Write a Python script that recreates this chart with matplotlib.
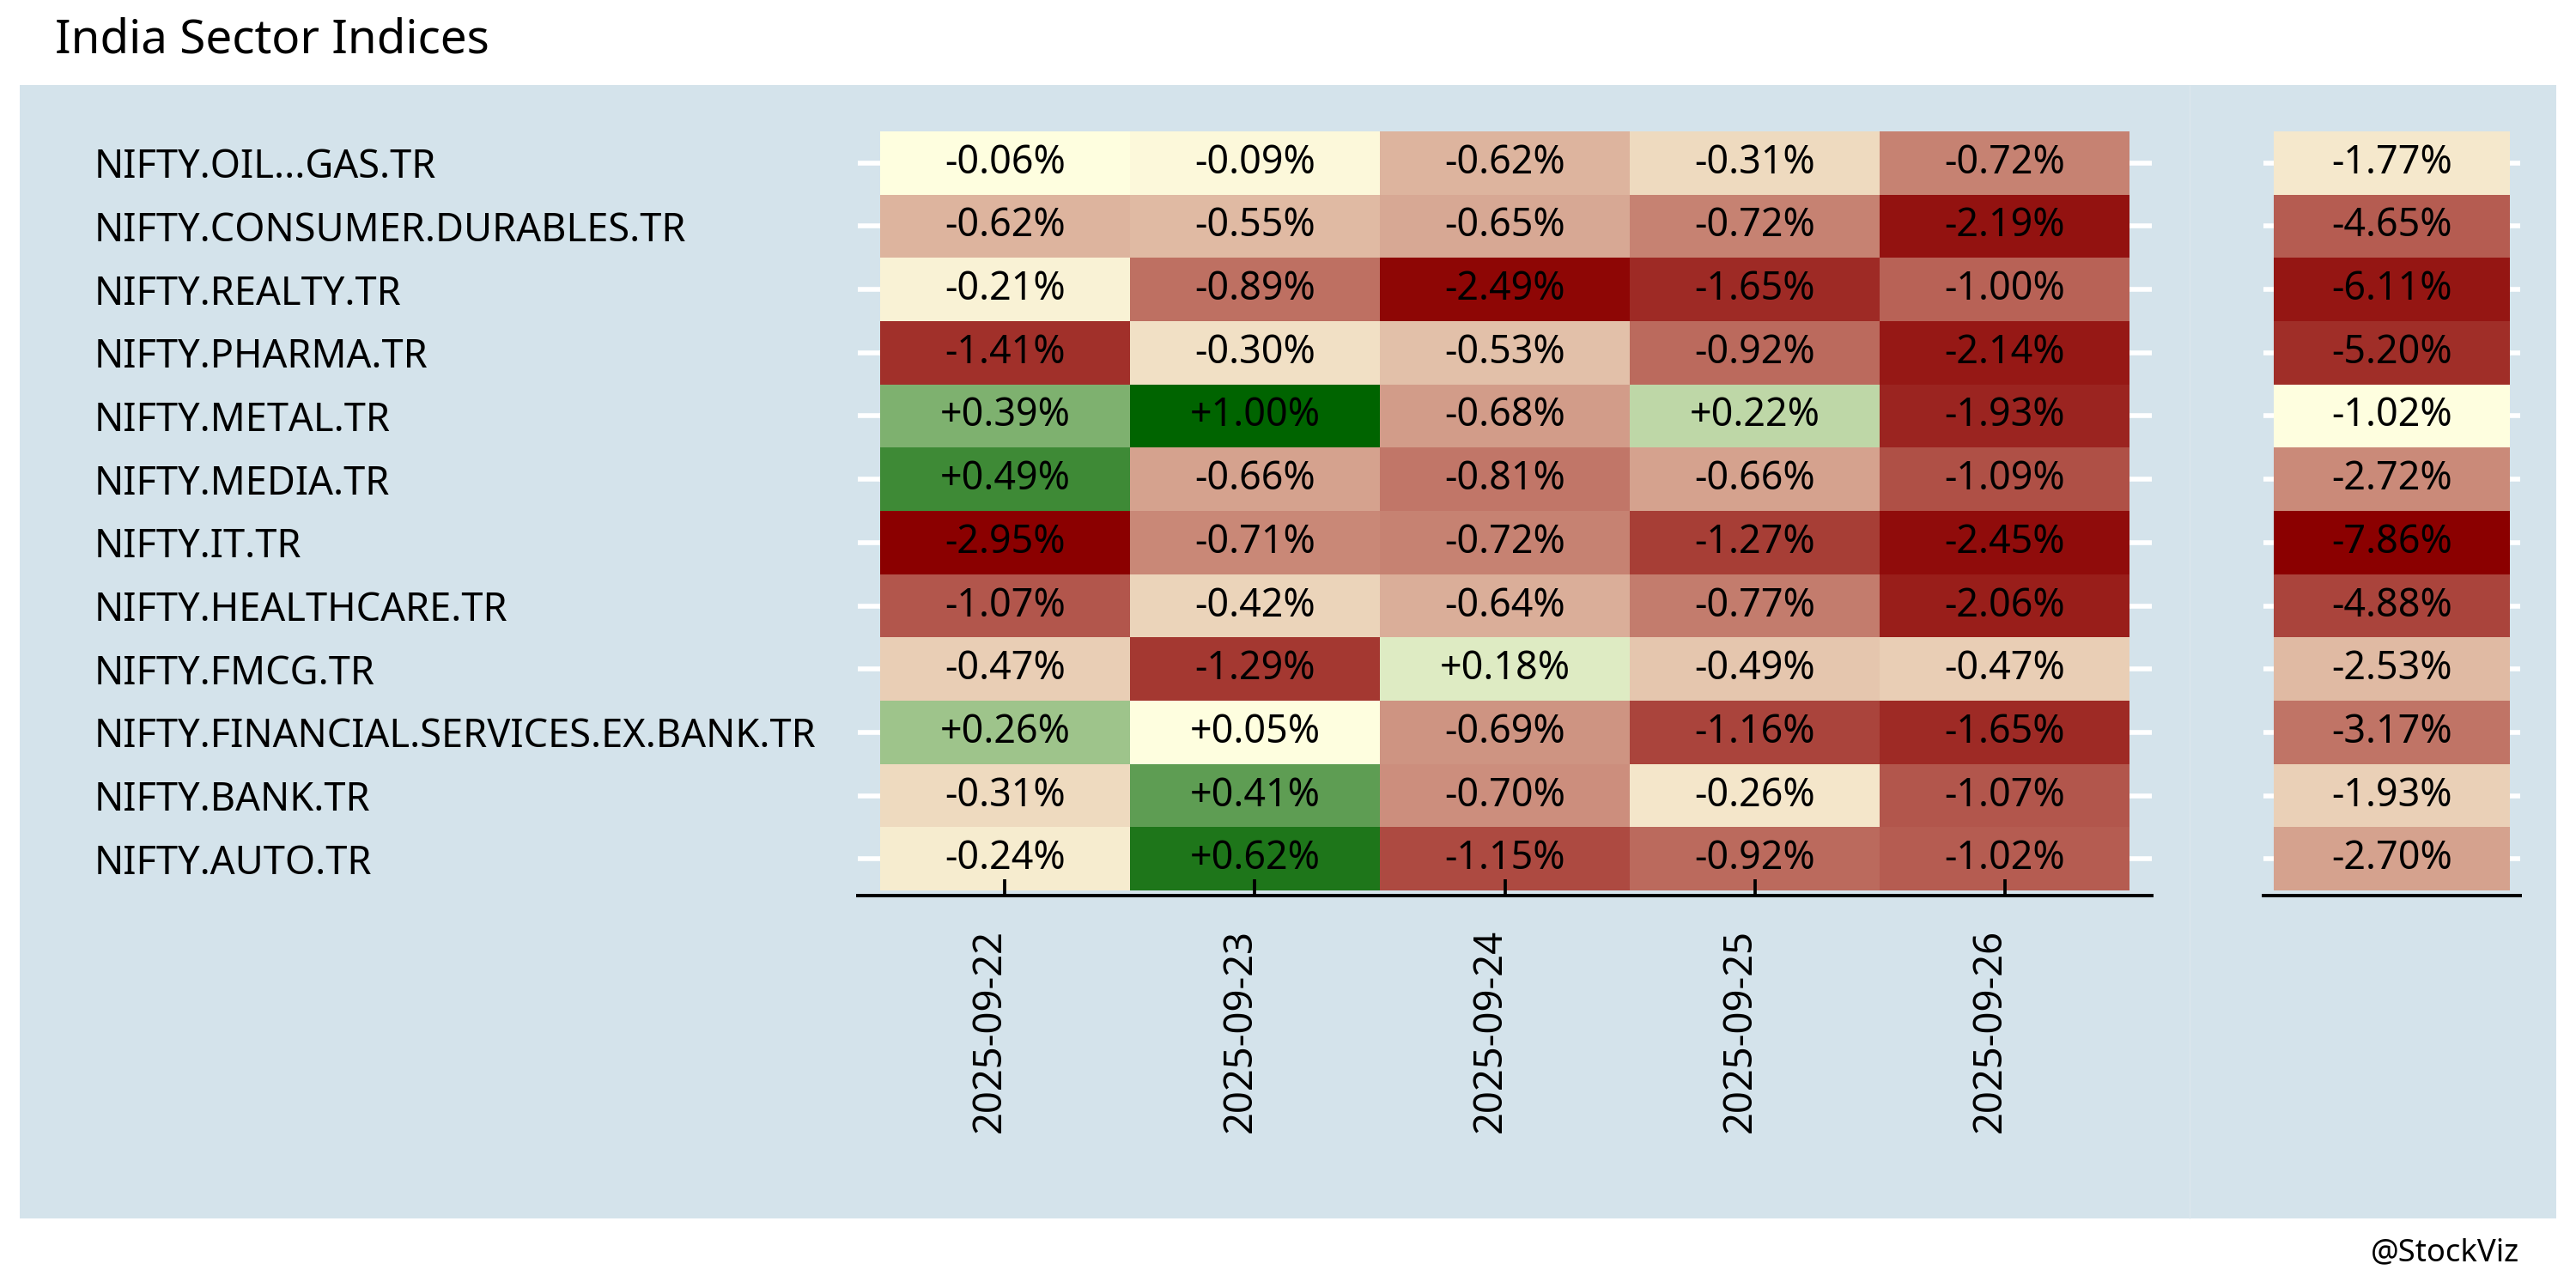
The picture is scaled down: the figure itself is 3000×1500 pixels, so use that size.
import matplotlib
matplotlib.use('Agg')
import matplotlib.pyplot as plt
import matplotlib.colors as mcolors
import matplotlib.transforms as mtrans
from matplotlib.patches import Rectangle
import numpy as np

plt.rcParams['font.family'] = ['Noto Sans', 'DejaVu Sans']

sectors = ['NIFTY.OIL...GAS.TR', 'NIFTY.CONSUMER.DURABLES.TR', 'NIFTY.REALTY.TR',
           'NIFTY.PHARMA.TR', 'NIFTY.METAL.TR', 'NIFTY.MEDIA.TR', 'NIFTY.IT.TR',
           'NIFTY.HEALTHCARE.TR', 'NIFTY.FMCG.TR', 'NIFTY.FINANCIAL.SERVICES.EX.BANK.TR',
           'NIFTY.BANK.TR', 'NIFTY.AUTO.TR']
dates = ['2025-09-22', '2025-09-23', '2025-09-24', '2025-09-25', '2025-09-26']

# daily returns (%) per sector, one column per date
daily = [[-0.06, -0.09, -0.62, -0.31, -0.72],
         [-0.62, -0.55, -0.65, -0.72, -2.19],
         [-0.21, -0.89, -2.49, -1.65, -1.00],
         [-1.41, -0.30, -0.53, -0.92, -2.14],
         [0.39, 1.00, -0.68, 0.22, -1.93],
         [0.49, -0.66, -0.81, -0.66, -1.09],
         [-2.95, -0.71, -0.72, -1.27, -2.45],
         [-1.07, -0.42, -0.64, -0.77, -2.06],
         [-0.47, -1.29, 0.18, -0.49, -0.47],
         [0.26, 0.05, -0.69, -1.16, -1.65],
         [-0.31, 0.41, -0.70, -0.26, -1.07],
         [-0.24, 0.62, -1.15, -0.92, -1.02]]
# cumulative return (%) for the week
cumulative = [-1.77, -4.65, -6.11, -5.20, -1.02, -2.72, -7.86, -4.88, -2.53, -3.17, -1.93, -2.70]

W, H = 3000, 1500
BG = '#d4e3eb'
cmap = mcolors.LinearSegmentedColormap.from_list('rg', ['darkred', 'lightyellow', 'darkgreen'])


class RankNorm(mcolors.Normalize):
    # negatives ranked darkred -> lightyellow, positives lightyellow -> darkgreen
    def __init__(self, vals):
        v = np.asarray(vals, dtype=float).ravel()
        neg = np.unique(v[v < 0])
        pos = np.unique(v[v > 0])
        xs = list(neg) + list(pos)
        ys = list(np.linspace(0, 0.5, len(neg))) + list(np.linspace(0.5, 1, len(pos)))
        self.xs, self.ys = np.array(xs), np.array(ys)
        super().__init__(vmin=self.xs[0], vmax=self.xs[-1])

    def __call__(self, value, clip=None):
        return np.ma.masked_array(np.interp(np.asarray(value, dtype=float), self.xs, self.ys))


def box(x0, y0, x1, y1):
    return [x0 / W, 1 - y1 / H, (x1 - x0) / W, (y1 - y0) / H]


fig = plt.figure(figsize=(20, 10), dpi=150)
bg_ax = fig.add_axes([0, 0, 1, 1], zorder=-5)
bg_ax.set_xlim(0, W)
bg_ax.set_ylim(H, 0)
bg_ax.axis('off')
bg_ax.add_patch(Rectangle((23, 99), 2550 - 23, 1419 - 99, facecolor=BG, edgecolor='none'))
bg_ax.add_patch(Rectangle((2550, 99), 2977 - 2550, 1419 - 99, facecolor=BG, edgecolor='none'))
bg_ax.vlines(2550, 99, 1419, colors='#dce8ee', linewidth=0.6)


def heat(ax, data, padx, pady):
    data = np.asarray(data, dtype=float)
    nr, nc = data.shape
    ax.set_facecolor('none')
    ax.hlines(np.arange(nr) + 0.5, 0, 1, transform=ax.get_yaxis_transform(),
              colors='white', linewidth=2.7, zorder=0.2)
    ax.pcolormesh(np.arange(nc + 1), np.arange(nr + 1), data, cmap=cmap,
                  norm=RankNorm(data), zorder=1)
    for i in range(nr):
        for j in range(nc):
            ax.text(j + 0.5, i + 0.5, f'{data[i, j]:+.2f}%', ha='center', va='center',
                    fontsize=21.5, color='black', zorder=3)
    ax.set_xlim(-padx, nc + padx)
    ax.set_ylim(nr + pady, -pady)
    for s in ['top', 'left', 'right']:
        ax.spines[s].set_visible(False)
    ax.spines['bottom'].set_linewidth(1.9)
    ax.spines['bottom'].set_color('black')
    ax.set_yticks(np.arange(nr) + 0.5)
    ax.tick_params(axis='y', length=0)
    ax.tick_params(axis='x', direction='in', length=9, width=1.8, color='black')


ax1 = fig.add_axes(box(999, 147, 2506, 1043))
heat(ax1, daily, 0.089, 0.08)
ax1.set_xticks(np.arange(len(dates)) + 0.5)
ax1.set_xticklabels(dates, rotation=90, fontsize=21.8)
ax1.tick_params(axis='x', pad=18.5)
shift = mtrans.ScaledTranslation(-8.2 / 72, 0, fig.dpi_scale_trans)
for lab in ax1.get_xticklabels():
    lab.set_transform(lab.get_transform() + shift)
ax1.set_yticklabels(sectors, fontsize=21.7, ha='left')
ax1.tick_params(axis='y', pad=427)

ax2 = fig.add_axes(box(2636, 147, 2935, 1043))
heat(ax2, np.array(cumulative)[:, None], 0.044, 0.08)
ax2.set_xticks([])
ax2.set_yticklabels([])

fig.text(64 / W, 1 - 62 / H, 'India Sector Indices', fontsize=26.3, ha='left', va='baseline')
fig.text(2934 / W, 1 - 1468 / H, '@StockViz', fontsize=17.5, ha='right', va='baseline')

fig.savefig('out.png', dpi=150)
